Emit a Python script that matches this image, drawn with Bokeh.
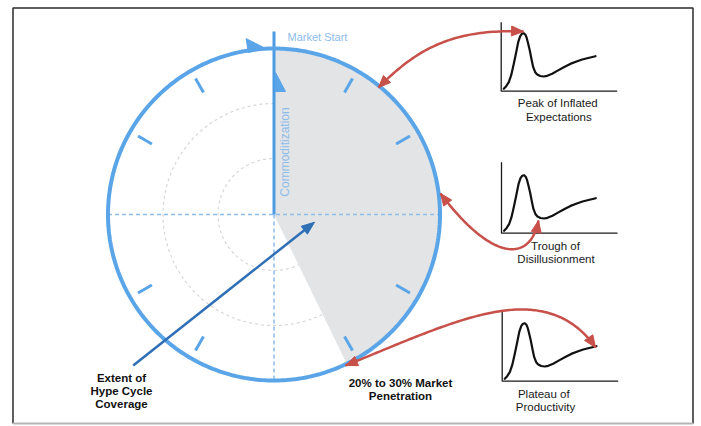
import numpy as np
from bokeh.plotting import figure
from bokeh.models import Range1d
from bokeh.core.properties import value
from bokeh.embed import file_html
from bokeh.resources import INLINE

# ---------------- data (page-pixel geometry) ----------------
PAGE_W, PAGE_H = 701, 426
center_x, center_y = 273.5, 214.0
radius_outer = 166
radii_inner = [111, 56]
tick_angles = [30, 60, 120, 150, 210, 240, 300, 330]
tick_r_in, tick_r_out = 141, 157
coverage_start_deg = 90
coverage_end_deg = -64

# hype-cycle mini curve shape (offset from axis origin, up = positive)
hype_dx = [2.6, 5, 7.6, 10, 12.6, 15, 17, 19, 20.8, 22.6, 24.2, 25.6, 27, 28.6, 30.3, 32, 34, 36,
           39, 42.6, 46, 51, 56, 62.6, 69, 76, 81, 86, 94.3]
hype_dy = [2.4, 5, 9, 16, 27.4, 39, 49, 55, 57.5, 58, 56.5, 53, 47.5, 40.7, 32, 24, 19, 16.7,
           15.2, 14.7, 15.4, 17.4, 20.3, 24, 27.3, 30, 31.7, 33, 35]
chart_origin_x = [500.7, 501.0, 501.7]
chart_origin_y = [90.7, 232.7, 380.7]
chart_axis_h = [69, 71, 70]
chart_axis_w = 116

stage_lines = [["Peak of Inflated", "Expectations"],
               ["Trough of", "Disillusionment"],
               ["Plateau of", "Productivity"]]
stage_x = [[557.3, 558.3], [555, 555.5], [543.3, 545]]
stage_y = [[102.7, 116.7], [245, 258.3], [393.3, 406]]

bold_lines = ["Extent of", "Hype Cycle", "Coverage", "20% to 30% Market", "Penetration"]
bold_x = [121, 121, 121, 400, 400]
bold_y = [377, 390, 403, 382, 395]

# red connector curves: list of cubic bezier segments (p0, c1, c2, p3); heads at start/end
red_curves = [
    [[(378, 87), (415, 50), (450, 28), (523, 31)]],
    [[(440, 193), (492, 262), (530, 262), (538, 220)]],
    [[(345, 365), (400, 343), (460, 315), (505, 310)],
     [(505, 310), (545, 305), (575, 318), (595, 347)]],
]

blue_arrow_start = (132.7, 365)
blue_arrow_end = (314, 221.7)

# ---------------- styling ----------------
RING = "#5aa5e8"
LIGHT = "#8cbcea"
RED = "#c8504a"
FONT = value("Liberation Sans")


def Y(v):
    return PAGE_H - np.asarray(v, dtype=float)


def arc(r, a0, a1, n=200):
    a = np.radians(np.linspace(a0, a1, n))
    return center_x + r * np.cos(a), center_y - r * np.sin(a)


def bez(p0, c1, c2, p3, n=60):
    t = np.linspace(0, 1, n)[:, None]
    p0, c1, c2, p3 = map(np.array, (p0, c1, c2, p3))
    pts = (1 - t) ** 3 * p0 + 3 * (1 - t) ** 2 * t * c1 + 3 * (1 - t) * t ** 2 * c2 + t ** 3 * p3
    return pts[:, 0], pts[:, 1]


def head(tip, frm, length=12, half=5):
    tip = np.array(tip, float)
    d = tip - np.array(frm, float)
    d /= np.hypot(*d)
    base = tip - d * length
    perp = np.array([-d[1], d[0]])
    a = base + perp * half
    b = base - perp * half
    return [tip[0], a[0], b[0]], [tip[1], a[1], b[1]]


p = figure(width=PAGE_W, height=PAGE_H, x_range=Range1d(0, PAGE_W), y_range=Range1d(0, PAGE_H),
           output_backend="svg", toolbar_location=None, min_border=0,
           x_axis_location=None, y_axis_location=None)
p.xgrid.visible = False
p.ygrid.visible = False
p.outline_line_color = None
p.background_fill_color = "white"
p.border_fill_color = "white"

# frame
p.line([12.5, 12.5, 692.5, 692.5], Y([423, 7.5, 7.5, 423]), line_color="#2b2b2b", line_width=1.5)
p.line([12.5, 692.5], Y([423, 423]), line_color="#b5b5b5", line_width=2)

# dotted inner rings
for r in radii_inner:
    xs, ys = arc(r, 0, 360, 300)
    p.line(xs, Y(ys), line_color="#d3d7db", line_width=1.2, line_dash="3 3")

# coverage wedge
wx, wy = arc(radius_outer, coverage_start_deg, coverage_end_deg, 200)
p.patch(np.r_[center_x, wx], Y(np.r_[center_y, wy]), fill_color="#e3e4e6", line_color=None)

# dotted cross lines
p.line([center_x - radius_outer, center_x + radius_outer], Y([center_y, center_y]),
       line_color=LIGHT, line_width=1.5, line_dash="4 3")
p.line([center_x, center_x], Y([center_y, center_y + radius_outer]),
       line_color=LIGHT, line_width=1.5, line_dash="4 3")

# solid commoditization axis
p.line([center_x, center_x], Y([31, center_y]), line_color="#4d9be3", line_width=3)

# outer ring
cx_, cy_ = arc(radius_outer, 0, 360, 400)
p.line(cx_, Y(cy_), line_color=RING, line_width=4)

# ticks
for a in tick_angles:
    ar = np.radians(a)
    xs = [center_x + tick_r_in * np.cos(ar), center_x + tick_r_out * np.cos(ar)]
    ys = [center_y - tick_r_in * np.sin(ar), center_y - tick_r_out * np.sin(ar)]
    p.line(xs, Y(ys), line_color=RING, line_width=3)

# arrowhead on ring (clockwise) and on axis (upward)
p.patch([265.7, 245.6, 247.8], Y([48.2, 38.1, 52]), fill_color=RING, line_color=RING)
p.patch([275, 275, 285], Y([72, 91, 91]), fill_color=RING, line_color=RING)

# labels on the ring
p.text(x=[287], y=Y([36]), text=["Market Start"], text_font=FONT, text_font_size="11px",
       text_color=LIGHT, text_align="left", text_baseline="middle")
p.text(x=[284.5], y=Y([151.5]), text=["Commoditization"], text_font=FONT, text_font_size="12px",
       text_color=LIGHT, text_align="center", text_baseline="middle", angle=np.pi / 2)

# dark blue arrow
hx, hy = head(blue_arrow_end, blue_arrow_start, 13, 5)
bx = (hx[1] + hx[2]) / 2
by = (hy[1] + hy[2]) / 2
p.line([blue_arrow_start[0], bx], Y([blue_arrow_start[1], by]), line_color="#2f6fb5", line_width=2.5)
p.patch(hx, Y(hy), fill_color="#2f6fb5", line_color="#2f6fb5")

# mini hype-cycle charts
for ox, oy, ah in zip(chart_origin_x, chart_origin_y, chart_axis_h):
    p.line([ox, ox, ox + chart_axis_w], Y([oy - ah, oy, oy]), line_color="#1a1a1a", line_width=1.3)
    p.line(ox + np.array(hype_dx), Y(oy - np.array(hype_dy)), line_color="#111111",
           line_width=2.2, line_join="round", line_cap="round")

# red connectors
for segs in red_curves:
    xs, ys = [], []
    for s in segs:
        sx, sy = bez(*s)
        xs.extend(sx)
        ys.extend(sy)
    p.line(xs, Y(ys), line_color=RED, line_width=2.5)
    h1x, h1y = head(segs[0][0], segs[0][1], 12, 5)
    h2x, h2y = head(segs[-1][3], segs[-1][2], 12, 5)
    p.patch(h1x, Y(h1y), fill_color=RED, line_color=RED)
    p.patch(h2x, Y(h2y), fill_color=RED, line_color=RED)

# stage labels
for lines, xs, ys in zip(stage_lines, stage_x, stage_y):
    p.text(x=xs, y=Y(ys), text=lines, text_font=FONT, text_font_size="11.5px",
           text_color="#1a1a1a", text_align="center", text_baseline="middle")

p.text(x=bold_x, y=Y(bold_y), text=bold_lines, text_font=FONT, text_font_size="11.5px",
       text_font_style="bold", text_color="#111111", text_align="center", text_baseline="middle")

open("out.html", "w").write(file_html(p, INLINE))
